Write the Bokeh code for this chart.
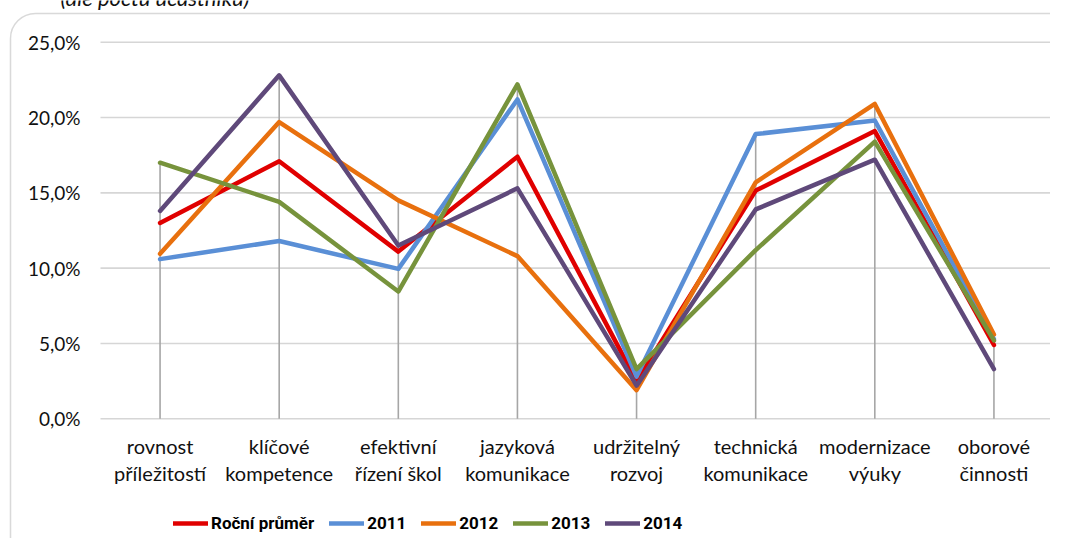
from bokeh.plotting import figure
from bokeh.models import (ColumnDataSource, Range1d, LabelSet, Label, Legend, LegendItem,
                          BoxAnnotation)
from bokeh.core.properties import value
from bokeh.embed import file_html
from bokeh.resources import INLINE

# ---------------- data ----------------
categories = ["rovnost\npříležitostí", "klíčové\nkompetence", "efektivní\nřízení škol",
              "jazyková\nkomunikace", "udržitelný\nrozvoj", "technická\nkomunikace",
              "modernizace\nvýuky", "oborové\nčinnosti"]
series_names = ["Roční průměr", "2011", "2012", "2013", "2014"]
rocni_prumer = [13.0, 17.1, 11.1, 17.4, 2.5, 15.15, 19.1, 4.9]
y2011 = [10.6, 11.8, 9.95, 21.2, 2.8, 18.9, 19.8, 5.3]
y2012 = [10.95, 19.7, 14.5, 10.8, 1.9, 15.7, 20.9, 5.6]
y2013 = [17.0, 14.4, 8.45, 22.2, 3.3, 11.2, 18.4, 5.2]
y2014 = [13.8, 22.8, 11.5, 15.3, 2.2, 13.9, 17.2, 3.3]
y_ticks = [0, 5, 10, 15, 20, 25]
y_tick_labels = ["0,0%", "5,0%", "10,0%", "15,0%", "20,0%", "25,0%"]
title_text = "(dle počtu účastníků)"

colors = ["#e00000", "#5a8fd6", "#e8700e", "#77933c", "#5f497a"]
all_series = [rocni_prumer, y2011, y2012, y2013, y2014]

# ---------------- layout (pixels) ----------------
FONT = "Lato"
W, H = 1050, 538
PLOT_L, PLOT_R = 100.0, 1053.0      # plot area horizontal extent
Y_TOP_PX, Y_ZERO_PX = 41.7, 418.3   # pixel rows of 25 % and 0 %
n = len(categories)
cat_w = (PLOT_R - PLOT_L) / n
px_per_pct = (Y_ZERO_PX - Y_TOP_PX) / 25.0

x_start = -0.5 - PLOT_L / cat_w
x_end = x_start + W / cat_w
y_end = 25 + Y_TOP_PX / px_per_pct
y_start = -(H - Y_ZERO_PX) / px_per_pct

xs = list(range(n))

p = figure(width=W, height=H, x_range=Range1d(x_start, x_end), y_range=Range1d(y_start, y_end),
           output_backend="svg", toolbar_location=None,
           min_border_left=0, min_border_right=0, min_border_top=0, min_border_bottom=0)
p.xaxis.visible = False
p.yaxis.visible = False
p.grid.visible = False
p.outline_line_color = None
p.background_fill_color = "white"
p.border_fill_color = "white"

# horizontal gridlines
p.segment(x0=[-0.5] * len(y_ticks), y0=y_ticks, x1=[n - 0.5] * len(y_ticks), y1=y_ticks,
          line_color="#d6d6d6", line_width=1.6)

# y tick labels
p.add_layout(LabelSet(x="x", y="y", text="t",
                      source=ColumnDataSource(dict(x=[-0.5] * len(y_ticks), y=y_ticks,
                                                   t=y_tick_labels)),
                      x_offset=-20, text_align="right", text_baseline="middle",
                      text_font=value(FONT), text_font_size="19px", text_color="#111111"))

# drop lines (from axis to highest value in each category)
tops = [max(vals) for vals in zip(*all_series)]
p.segment(x0=xs, y0=[0] * n, x1=xs, y1=tops, line_color="#a6a6a6", line_width=1.6)

# series
renderers = []
for name, vals, c in zip(series_names, all_series, colors):
    r = p.line(x=xs, y=vals, line_color=c, line_width=4.5,
               line_join="round", line_cap="round")
    renderers.append(r)

# category labels (two lines)
line1 = [c.split("\n")[0] for c in categories]
line2 = [c.split("\n")[1] for c in categories]
for txt, off_px in ((line1, 27), (line2, 54)):
    src = ColumnDataSource(dict(x=xs, y=[-off_px / px_per_pct] * n, t=txt))
    p.add_layout(LabelSet(x="x", y="y", text="t", source=src,
                          text_align="center", text_baseline="middle",
                          text_font=value(FONT), text_font_size="20px",
                          text_color="#111111"))

# legend
lg = Legend(items=[LegendItem(label=nm, renderers=[r]) for nm, r in zip(series_names, renderers)],
            location=(173, H - 533), orientation="horizontal", padding=0, margin=0, spacing=15,
            glyph_width=35, glyph_height=20, label_height=20, label_standoff=3,
            label_text_font="Roboto",
            label_text_font_style="bold", label_text_font_size="17px",
            label_text_color="#000000", label_text_baseline="middle",
            border_line_color=None, background_fill_alpha=0)
p.add_layout(lg, "center")

# chart title (cut off at the top as in the original)
p.add_layout(Label(x=60, y=10, x_units="canvas", y_units="canvas", text=title_text,
                   text_font=FONT, text_font_style="italic", text_font_size="22px",
                   text_baseline="bottom", text_color="#111111"))

# rounded chart border
p.add_layout(BoxAnnotation(left=10, top=13, right=1090, bottom=590,
                           left_units="canvas", right_units="canvas",
                           top_units="canvas", bottom_units="canvas",
                           fill_alpha=0, line_color="#808080", line_width=1.5,
                           border_radius=25, level="underlay"))

open("out.html", "w").write(file_html(p, INLINE))
